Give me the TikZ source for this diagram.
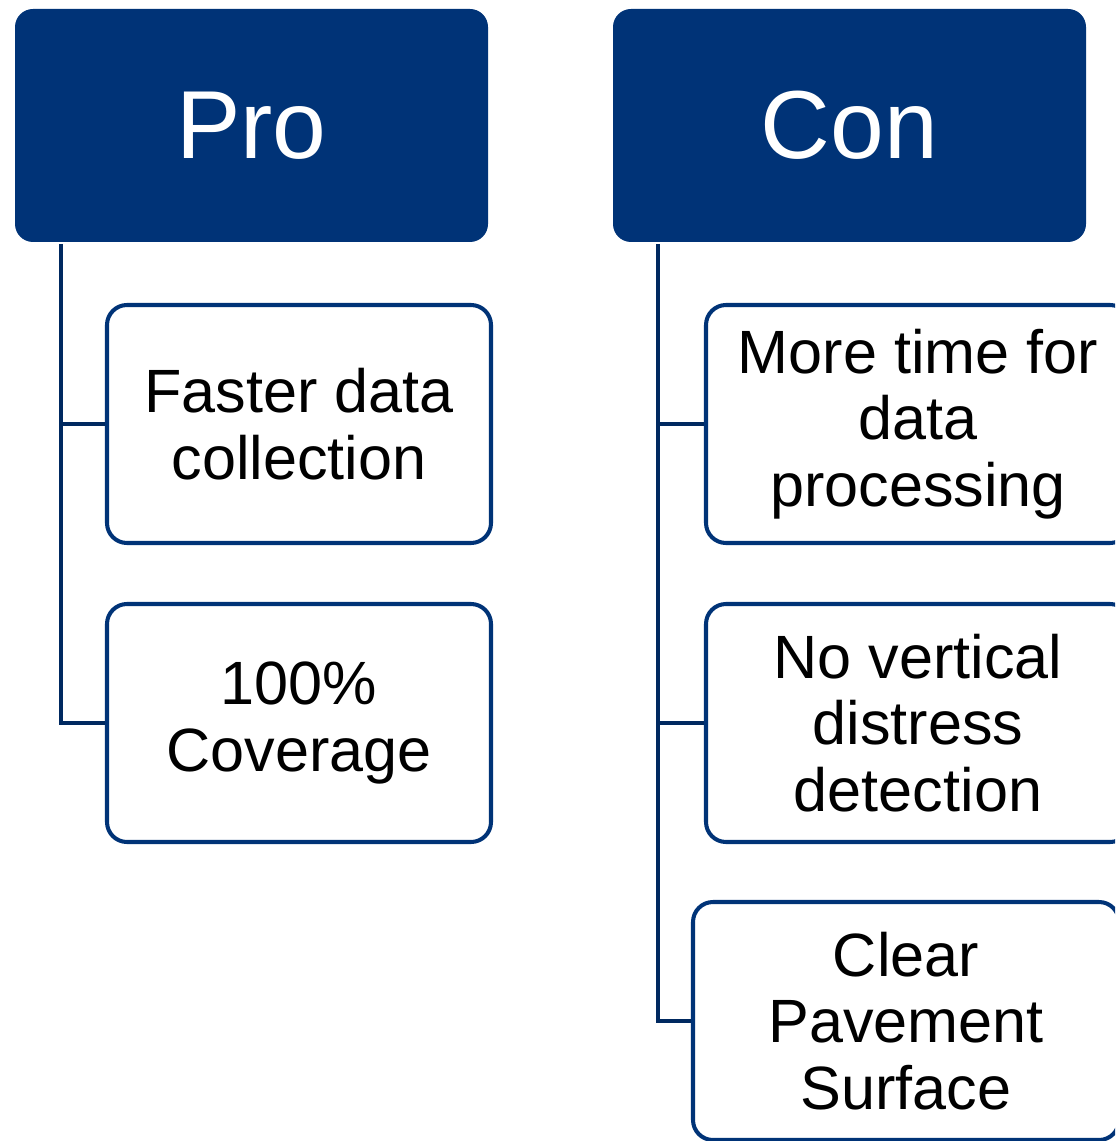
\documentclass[tikz,border=0pt]{standalone}
\usepackage{fontspec}
\setmainfont{Liberation Sans}
\usepackage{tikz}
\definecolor{navy}{RGB}{0,51,119}
\definecolor{navyline}{RGB}{0,41,96}

\begin{document}
\begin{tikzpicture}[x=0.02cm,y=-0.02cm]
\tikzstyle{every node}+=[inner sep=0pt]
\tikzstyle{head}=[rectangle,rounded corners=18*0.02cm,fill=navy,text=white,minimum width=473*0.02cm,minimum height=233*0.02cm,font=\fontsize{55}{60}\selectfont]
\tikzstyle{item}=[rectangle,rounded corners=20*0.02cm,draw=navy,line width=2.3pt,fill=white,minimum height=238*0.02cm,align=center,font=\fontsize{34.8}{37.8}\selectfont]
\tikzstyle{link}=[draw=navyline,line width=2.6pt]
\clip (0,0) rectangle (1115,1141);
\useasboundingbox (0,0) rectangle (1115,1141);
% headers
\node [head] (pro) at (251.5,125.5) {Pro};
\node [head] (con) at (849.5,125.5) {Con};
% pro items
\node [item,minimum width=384*0.02cm] (pro1) at (299,424) {Faster data\\collection};
\node [item,minimum width=384*0.02cm] (pro2) at (299,723) {100\%\\Coverage};
% con items
\node [item,minimum width=424*0.02cm] (con1) at (918,424) {More time for\\data\\processing};
\node [item,minimum width=424*0.02cm] (con2) at (918,723) {No vertical\\distress\\detection};
\node [item,minimum width=426*0.02cm] (con3) at (906,1021) {Clear\\Pavement\\Surface};
% links
\coordinate (protop) at (61,244);
\coordinate (contop) at (658,244);
\draw [link] (protop) |- (pro2.west);
\draw [link] (protop |- pro1.west) -- (pro1.west);
\draw [link] (contop) |- (con3.west);
\draw [link] (contop |- con1.west) -- (con1.west);
\draw [link] (contop |- con2.west) -- (con2.west);
\end{tikzpicture}
\end{document}
